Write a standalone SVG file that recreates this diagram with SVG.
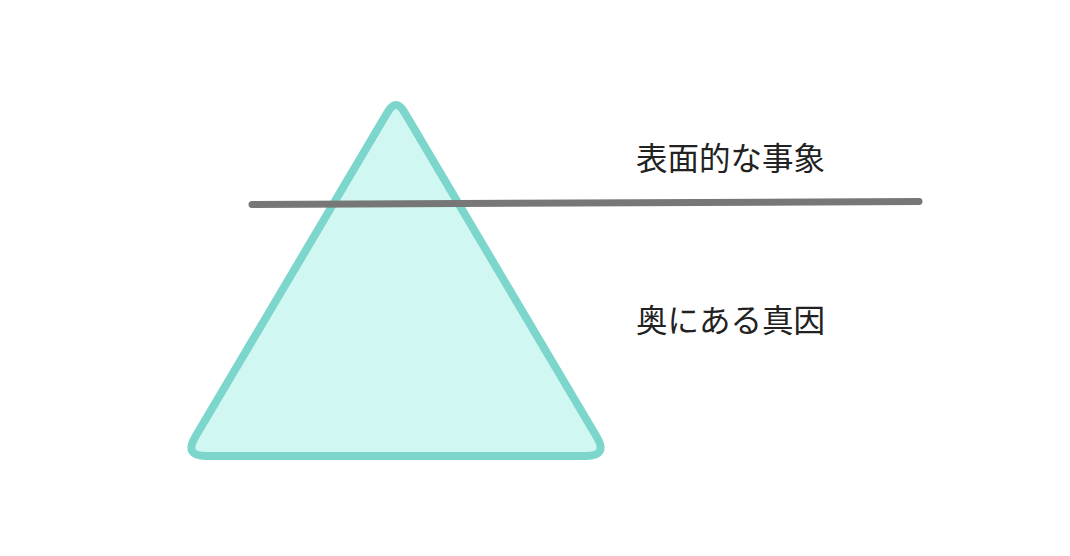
<svg xmlns="http://www.w3.org/2000/svg" width="1070" height="556" viewBox="0 0 1070 556">
<style>
.tri{fill:#d1f7f3;stroke:#7dd6cb;stroke-width:8;stroke-linejoin:round}
.ln{stroke:#777777;stroke-width:7;stroke-linecap:round;fill:none}
.lbl{font-family:"Noto Sans CJK JP","Noto Sans",sans-serif;font-size:31.5px;fill:#222222}
</style>
<rect width="1070" height="556" fill="#ffffff"/>
<g id="triangle">
<path class="tri" d="M387.87,111.77 Q396,98 404.13,111.77 L596.82,437.06 Q608,456 586,456 L206,456 Q184,456 195.18,437.06 Z"/>
</g>
<g id="connectors">
<line class="ln" x1="252" y1="204.5" x2="919" y2="201.5"/>
</g>
<g id="label-surface">
<text class="lbl" x="636" y="169.5">表面的な事象</text>
</g>
<g id="label-root">
<text class="lbl" x="636" y="331.5">奥にある真因</text>
</g>
</svg>
